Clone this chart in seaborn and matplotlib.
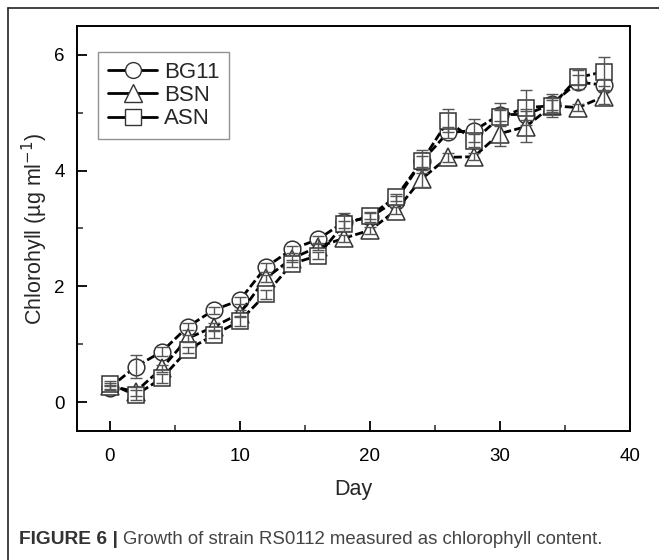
import matplotlib
matplotlib.use("Agg")
import matplotlib.pyplot as plt
from matplotlib.lines import Line2D
from matplotlib.ticker import MultipleLocator
import numpy as np
import pandas as pd
import seaborn as sns

# data
days = [0, 2, 4, 6, 8, 10, 12, 14, 16, 18, 20, 22, 24, 26, 28, 30, 32, 34, 36, 38]
bg11 = [0.25, 0.61, 0.87, 1.30, 1.59, 1.76, 2.33, 2.64, 2.81, 3.11, 3.19, 3.48, 4.16, 4.66, 4.69, 4.97, 4.97, 5.15, 5.53, 5.48]
bsn = [0.28, 0.18, 0.58, 1.10, 1.30, 1.53, 2.14, 2.48, 2.68, 2.83, 2.97, 3.31, 3.86, 4.23, 4.24, 4.64, 4.76, 5.12, 5.09, 5.28]
asn = [0.32, 0.12, 0.41, 0.90, 1.16, 1.40, 1.86, 2.39, 2.53, 3.07, 3.22, 3.54, 4.16, 4.86, 4.52, 4.92, 5.09, 5.12, 5.61, 5.71]
bg11_err = [0.05, 0.20, 0.08, 0.06, 0.06, 0.06, 0.08, 0.06, 0.06, 0.15, 0.08, 0.08, 0.20, 0.10, 0.20, 0.20, 0.10, 0.10, 0.12, 0.10]
bsn_err = [0.05, 0.08, 0.06, 0.06, 0.06, 0.06, 0.06, 0.06, 0.06, 0.06, 0.06, 0.06, 0.15, 0.08, 0.06, 0.22, 0.27, 0.20, 0.06, 0.12]
asn_err = [0.05, 0.08, 0.08, 0.06, 0.06, 0.08, 0.08, 0.06, 0.06, 0.06, 0.06, 0.06, 0.10, 0.20, 0.12, 0.13, 0.30, 0.10, 0.13, 0.25]
series = ["BG11", "BSN", "ASN"]
markers = {"BG11": "o", "BSN": "^", "ASN": "s"}

df = pd.DataFrame({
    "Day": days * 3,
    "Chl": bg11 + bsn + asn,
    "err": bg11_err + bsn_err + asn_err,
    "Medium": [s for s in series for _ in days],
})

sns.set_style("white")
plt.rcParams["font.family"] = ["Liberation Sans", "DejaVu Sans"]

fig = plt.figure(figsize=(6.59, 5.6), dpi=100)
ax = fig.add_axes([0.117, 0.2304, 0.839, 0.7232])

msize = {"o": 12, "^": 13, "s": 11.5}
for s in series:
    d = df[df["Medium"] == s]
    m = markers[s]
    sns.lineplot(data=d, x="Day", y="Chl", ax=ax, color="black", lw=2,
                 linestyle=(0, (3, 1.2)), marker=m, markersize=msize[m],
                 markerfacecolor="white", markeredgecolor="#333333",
                 markeredgewidth=1.1, zorder=3, legend=False)
    ax.errorbar(d["Day"], d["Chl"], yerr=d["err"], fmt="none",
                ecolor="#555555", elinewidth=1, capsize=4, capthick=1, zorder=4)

ax.set_xlim(-2.5, 40)
ax.set_ylim(-0.5, 6.5)
ax.set_xticks([0, 10, 20, 30, 40])
ax.set_yticks([0, 2, 4, 6])
ax.xaxis.set_minor_locator(MultipleLocator(5))
ax.yaxis.set_minor_locator(MultipleLocator(1))
ax.tick_params(which="major", direction="in", length=7, width=1.3, labelsize=13.5,
               bottom=True, left=True, colors="black")
ax.tick_params(axis="x", which="major", pad=12)
ax.tick_params(axis="y", which="major", pad=9)
ax.tick_params(which="minor", direction="in", length=4, width=1.1,
               bottom=True, left=True)
for sp in ax.spines.values():
    sp.set_visible(True)
    sp.set_color("black")
    sp.set_linewidth(1.4)

ax.set_xlabel("Day", fontsize=15.5, labelpad=10)
ax.set_ylabel("Chlorohyll (µg ml$^{-1}$)", fontsize=15.5, labelpad=3)

handles = [Line2D([], [], color="black", lw=2, marker=markers[s],
                  markersize=msize[markers[s]] * 0.95, markerfacecolor="white",
                  markeredgecolor="#333333", markeredgewidth=1.0) for s in series]
leg = ax.legend(handles, series, loc="upper left", bbox_to_anchor=(0.038, 0.936),
                borderaxespad=0, fancybox=False, edgecolor="#777777",
                fontsize=16, handlelength=2.2, handletextpad=0.3,
                labelspacing=0.1, borderpad=0.45)
leg.get_frame().set_linewidth(1.0)

# outer frame (left and top edges) and caption
fig.add_artist(Line2D([8 / 659, 8 / 659], [0, 1 - 8 / 560], color="#222222", lw=1.2))
fig.add_artist(Line2D([8 / 659, 1], [1 - 8 / 560, 1 - 8 / 560], color="#222222", lw=1.2))
cap_y = 1 - 540 / 560
t1 = fig.text(19 / 659, cap_y, "FIGURE 6 |", fontsize=13.8, fontweight="bold",
              color="#333333", va="center")
fig.canvas.draw()
bb = t1.get_window_extent(renderer=fig.canvas.get_renderer())
fig.text(bb.x1 / fig.bbox.width + 0.008, cap_y,
         "Growth of strain RS0112 measured as chlorophyll content.",
         fontsize=13.4, color="#444444", va="center")

fig.savefig("out.png", dpi=100)
